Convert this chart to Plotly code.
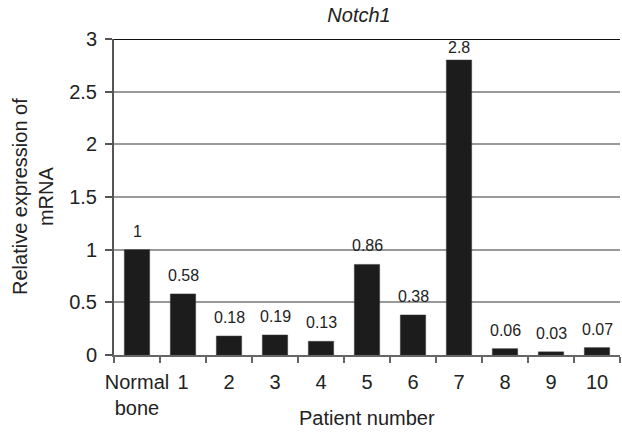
import plotly.graph_objects as go

# Notch1 relative mRNA expression
categories = ['Normal<br>bone', '1', '2', '3', '4', '5', '6', '7', '8', '9', '10']
values = [1, 0.58, 0.18, 0.19, 0.13, 0.86, 0.38, 2.8, 0.06, 0.03, 0.07]
value_labels = ['1', '0.58', '0.18', '0.19', '0.13', '0.86', '0.38', '2.8', '0.06', '0.03', '0.07']
y_ticks = [0, 0.5, 1, 1.5, 2, 2.5, 3]
y_tick_text = ['0', '0.5', '1', '1.5', '2', '2.5', '3']

FONT = 'Arial, Liberation Sans, sans-serif'

fig = go.Figure()

fig.add_trace(
    go.Bar(
        x=categories,
        y=values,
        width=0.55,
        marker=dict(color='#1c1c1c', line=dict(color='#333333', width=0.5)),
        showlegend=False
    )
)

# value labels above the bars (tallest one squeezed under the top line)
for cat, val, lab in zip(categories, values, value_labels):
    fig.add_annotation(
        x=cat, y=val, text=lab, showarrow=False,
        yanchor='bottom', yshift=2 if val > 2.5 else 8,
        font=dict(family=FONT, size=16, color='#222222')
    )

# top border line at 3
fig.add_shape(type='line', xref='paper', yref='y', x0=0, x1=1, y0=3, y1=3,
              line=dict(color='#111111', width=2))

# axis titles
fig.add_annotation(
    xref='paper', yref='paper', x=0, y=0.5, xshift=-81,
    text='Relative expression of<br>mRNA', textangle=-90, showarrow=False,
    xanchor='center', yanchor='middle',
    font=dict(family=FONT, size=20, color='#222222')
)
fig.add_annotation(
    xref='paper', yref='paper', x=0.5, y=0, yshift=-63,
    text='Patient number', showarrow=False,
    xanchor='center', yanchor='middle',
    font=dict(family=FONT, size=20, color='#222222')
)

fig.update_layout(
    title=dict(text='<i>Notch1</i>', x=359 / 622, xanchor='center',
               y=1 - 15 / 437, yanchor='middle',
               font=dict(family=FONT, size=20, color='#222222')),
    width=622,
    height=437,
    margin=dict(l=114, r=2, t=39, b=82),
    plot_bgcolor='white',
    paper_bgcolor='white',
    font=dict(family=FONT, size=20, color='#222222'),
    bargap=0.45
)

fig.update_xaxes(
    showline=True, linecolor='#666666', linewidth=2,
    ticks='outside', tickson='boundaries', ticklen=6, tickcolor='#666666', tickwidth=2,
    showgrid=False, tickangle=0, automargin=False, ticklabelstandoff=8,
    tickfont=dict(family=FONT, size=20, color='#222222')
)

fig.update_yaxes(
    range=[0, 3],
    tickvals=y_ticks, ticktext=y_tick_text,
    showline=True, linecolor='#555555', linewidth=2,
    ticks='outside', ticklen=7, tickcolor='#555555', tickwidth=2,
    showgrid=True, gridcolor='#9a9a9a', gridwidth=1.5,
    zeroline=False, automargin=False, ticklabelstandoff=4,
    tickfont=dict(family=FONT, size=20, color='#222222')
)

# drop the default page margin so the 622x437 figure fits the window
fig.write_html("out.html",
               config={'displayModeBar': False},
               post_script="document.body.style.margin='0';document.body.style.overflow='hidden';")
